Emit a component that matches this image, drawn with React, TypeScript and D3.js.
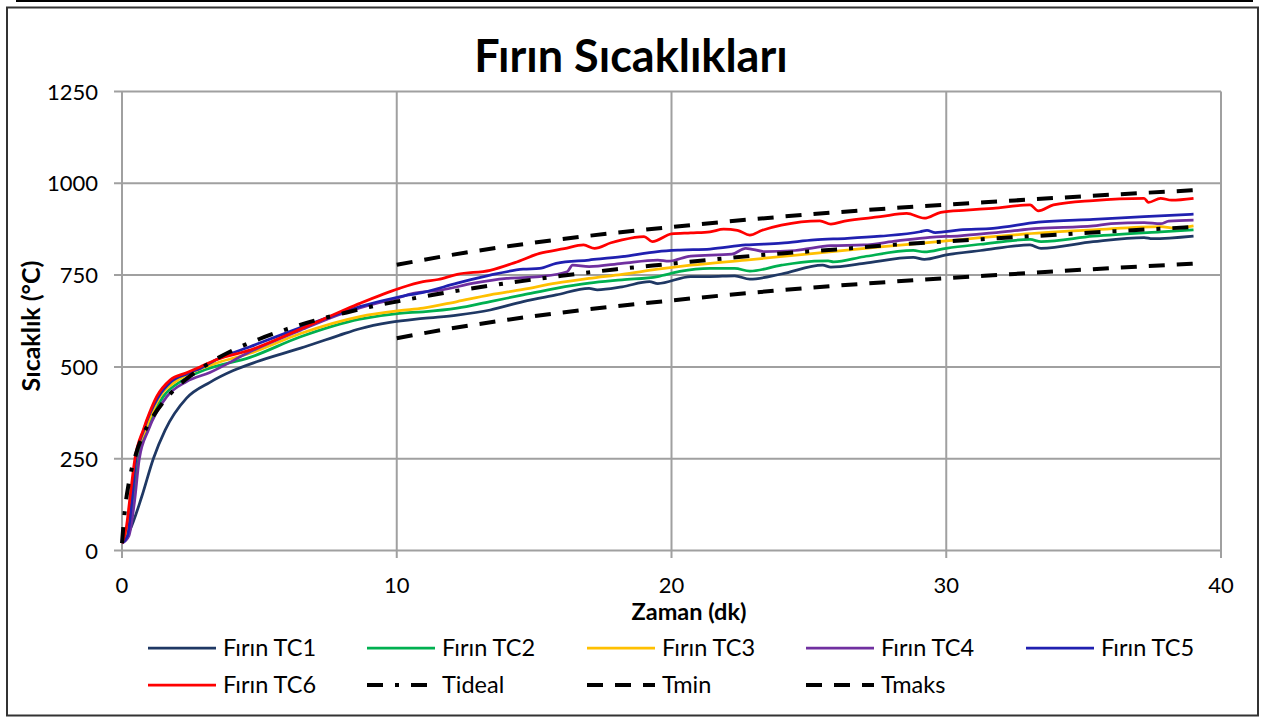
import React from 'react';
import * as d3 from 'd3';

type P = [number, number];

const xTicks = [0, 10, 20, 30, 40];
const yTicks = [0, 250, 500, 750, 1000, 1250];

const tc1: P[] = [[0,20],[0.29,56],[0.72,147],[1.14,250],[1.57,328],[2.35,415],[3.2,458],[4.05,490],[4.9,514],[6.5,551],[7.9,586],[8.66,604],[9.75,621],[10.96,632],[12.2,641],[13.4,655],[14.6,678],[15.8,696],[17.0,714],[17.3,710],[18.2,718],[19.2,732],[19.5,727],[20.7,746],[21.4,746],[22.3,748],[22.85,739],[24.0,753],[25.5,777],[25.8,772],[27.0,782],[28.8,798],[29.2,793],[30.0,805],[31.25,817],[33.05,832],[33.45,823],[35.35,841],[37.2,852],[37.5,849],[39,856]];
const tc2: P[] = [[0,20],[0.22,45],[0.4,150],[0.57,250],[0.9,328],[1.5,419],[2.17,462],[3.02,492],[4.66,526],[6.5,582],[8.66,630],[10.1,646],[10.96,650],[12.2,660],[13.4,678],[14.6,696],[15.8,714],[17.0,728],[18.2,737],[19.5,746],[20.3,760],[21.4,768],[22.3,768],[22.85,761],[24.0,777],[25.2,788],[25.7,789],[25.9,786],[27.0,800],[28.8,817],[29.2,813],[30.0,823],[31.25,834],[33.05,847],[33.45,841],[35.35,856],[37.8,868],[39,873]];
const tc3: P[] = [[0,20],[0.2,50],[0.35,150],[0.51,250],[0.85,328],[1.38,419],[1.99,462],[2.7,490],[3.5,512],[4.66,537],[6.5,591],[8.66,637],[10.1,653],[10.96,660],[12.2,678],[13.4,696],[14.6,711],[15.8,728],[17.0,741],[18.2,752],[19.5,766],[20.7,777],[22.7,791],[25.2,809],[27.6,827],[30.0,843],[31.25,852],[32.9,862],[35.35,873],[37.8,882],[38.3,878],[39,884]];
const tc4: P[] = [[0,20],[0.25,40],[0.45,130],[0.63,250],[0.96,328],[1.63,419],[2.35,460],[3.2,485],[4.66,541],[6.5,600],[8,645],[9,668],[10,687],[10.6,700],[11.6,709],[12.8,728],[14.0,741],[15.2,746],[16.2,759],[16.4,777],[17.0,773],[18.2,782],[19.5,791],[19.9,788],[20.7,802],[22.2,807],[22.7,823],[23.4,814],[24.5,817],[25.8,830],[27.0,832],[28.2,843],[29.4,853],[30.5,857],[31.7,865],[33.35,877],[35.35,884],[36.0,890],[37.2,893],[37.8,890],[38.1,897],[39,900]];
const tc5: P[] = [[0,20],[0.2,40],[0.35,130],[0.5,245],[0.8,330],[1.3,415],[1.8,460],[2.4,482],[2.9,498],[3.5,522],[4.66,555],[6.5,607],[8.66,664],[10.1,691],[10.96,703],[12.2,728],[13.4,750],[14.6,766],[15.2,768],[15.8,782],[17.0,791],[18.2,800],[19.5,814],[20.3,818],[21.4,821],[22.7,832],[24.0,837],[25.2,846],[26.4,850],[27.6,856],[29.05,868],[29.3,872],[29.6,866],[30.5,873],[31.7,877],[33.35,894],[35.35,902],[37.2,909],[39,916]];
const tc6: P[] = [[0,20],[0.15,60],[0.3,150],[0.47,250],[0.78,330],[1.0,375],[1.26,419],[1.75,464],[2.35,484],[2.84,500],[3.45,520],[4.66,546],[6.5,603],[8,652],[8.66,673],[10.1,714],[10.96,732],[11.5,738],[12.2,752],[13.4,763],[14.3,784],[15.2,809],[16.1,822],[16.8,832],[17.2,823],[17.8,838],[18.2,846],[19.0,855],[19.3,841],[20.0,862],[20.7,865],[21.4,868],[21.9,875],[22.4,872],[22.85,859],[23.3,872],[24.0,886],[25.4,898],[25.8,889],[26.3,897],[27.6,909],[28.56,918],[29.2,905],[29.8,921],[30.74,927],[31.7,932],[33.05,941],[33.35,925],[33.9,941],[35.35,953],[37.2,959],[37.36,948],[37.8,959],[38.2,954],[39,959]];
const tideal: P[] = [[0,20],[0.1,107],[0.25,185],[0.5,261],[0.75,312],[1,349],[1.5,404],[2,445],[2.5,476],[3,502],[4,544],[5,576],[6,603],[7,626],[8,645],[9,663],[10,678],[12,705],[14,728],[16,748],[18,766],[20,781],[22,796],[24,809],[26,820],[28,832],[30,842],[32,851],[34,860],[36,869],[38,877],[39,881]];
const tmin: P[] = [[10,578],[12,605],[14,628],[16,648],[20,681],[24,709],[28,732],[32,751],[36,769],[39,781]];
const tmaks: P[] = [[10,778],[12,805],[14,828],[16,848],[20,881],[24,909],[28,932],[32,951],[36,969],[39,981]];

const seriesNames = ['Fırın TC1','Fırın TC2','Fırın TC3','Fırın TC4','Fırın TC5','Fırın TC6','Tideal','Tmin','Tmaks'];
const seriesData = [tc1, tc2, tc3, tc4, tc5, tc6, tideal, tmin, tmaks];
const seriesColors = ['#1F3864','#00B050','#FFC000','#7030A0','#2020B0','#FF0000','#000000','#000000','#000000'];
const seriesDash = ['', '', '', '', '', '', '16,12,4,12', '16,12', '16,12'];

const FONT = "Lato, 'Open Sans', sans-serif";

export default function App() {
  const x = d3.scaleLinear().domain([0, 40]).range([122, 1221]);
  const y = d3.scaleLinear().domain([0, 1250]).range([550.5, 91.5]);
  const line = d3.line<P>().x(d => x(d[0])).y(d => y(d[1])).curve(d3.curveMonotoneX);
  const grid = '#A0A0A0';
  const legendCols = [148, 367, 587, 806, 1026];
  const legendRows = [648, 685];

  return (
    <svg width={1262} height={719} style={{ position: 'absolute', left: 0, top: 0, background: '#fff' }} fontFamily={FONT}>
      <rect x={0} y={0} width={1262} height={719} fill="#fff" />
      <line x1={16} x2={1253} y1={1} y2={1} stroke="#000" strokeWidth={2} />
      <rect x={7} y={7.5} width={1251} height={708} fill="none" stroke="#333" strokeWidth={2} />
      <text x={631} y={72} textAnchor="middle" fontSize={45} fontWeight="bold" fill="#000">Fırın Sıcaklıkları</text>

      {yTicks.map(t => (
        <g key={'y' + t}>
          <line x1={114} x2={1221} y1={y(t)} y2={y(t)} stroke={grid} strokeWidth={2} />
          <text x={98} y={y(t) + 8} textAnchor="end" fontSize={22} fill="#000">{t}</text>
        </g>
      ))}
      {xTicks.map(t => (
        <g key={'x' + t}>
          <line x1={x(t)} x2={x(t)} y1={91.5} y2={558} stroke={grid} strokeWidth={2} />
          <text x={x(t)} y={592.5} textAnchor="middle" fontSize={22} fill="#000">{t}</text>
        </g>
      ))}

      <text x={689} y={620} textAnchor="middle" fontSize={23.5} fontWeight="bold" fill="#000">Zaman (dk)</text>
      <text transform="translate(40,326) rotate(-90)" textAnchor="middle" fontSize={25} fontWeight="bold" fill="#000">Sıcaklık (°C)</text>

      {seriesData.map((d, i) => (
        <path key={'s' + i} d={line(d) || ''} fill="none" stroke={seriesColors[i]}
          strokeWidth={i < 6 ? 2.75 : 4} strokeDasharray={seriesDash[i] || undefined} strokeLinejoin="round" />
      ))}

      {seriesNames.map((n, i) => {
        const cx = legendCols[i % 5];
        const cy = legendRows[Math.floor(i / 5)];
        return (
          <g key={'l' + i}>
            <line x1={cx} x2={cx + 68} y1={cy} y2={cy} stroke={seriesColors[i]} strokeWidth={i < 6 ? 2.75 : 4}
              strokeDasharray={seriesDash[i] || undefined} />
            <text x={cx + 75} y={cy + 8} fontSize={23.5} fill="#000">{n}</text>
          </g>
        );
      })}
    </svg>
  );
}
